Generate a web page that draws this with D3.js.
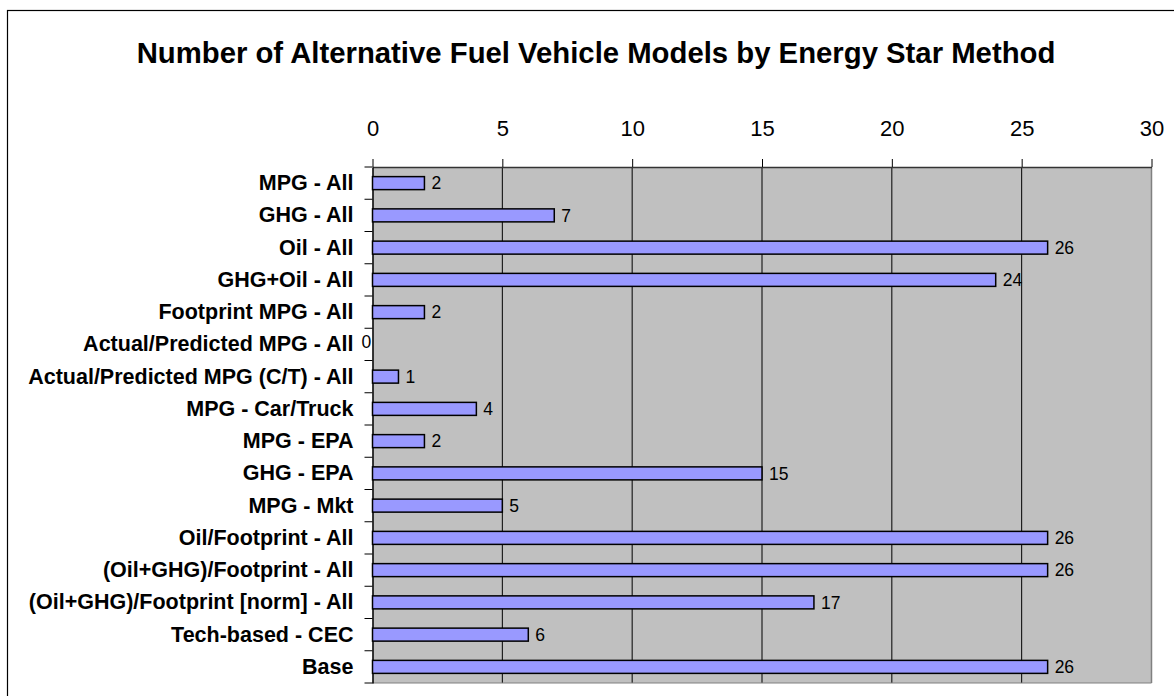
<!DOCTYPE html>
<html><head><meta charset="utf-8">
<script src="https://cdn.jsdelivr.net/npm/d3@7"></script>
<style>body{margin:0;background:#fff}svg{display:block}</style>
</head><body>
<script>
const categories = ["MPG - All","GHG - All","Oil - All","GHG+Oil - All","Footprint MPG - All","Actual/Predicted MPG - All","Actual/Predicted MPG (C/T) - All","MPG - Car/Truck","MPG - EPA","GHG - EPA","MPG - Mkt","Oil/Footprint - All","(Oil+GHG)/Footprint - All","(Oil+GHG)/Footprint [norm] - All","Tech-based - CEC","Base"];
const values = [2,7,26,24,2,0,1,4,2,15,5,26,26,17,6,26];
const tickValues = [0,5,10,15,20,25,30];
const title = "Number of Alternative Fuel Vehicle Models by Energy Star Method";

const W=1174,H=696;
const svg=d3.select("body").append("svg").attr("width",W).attr("height",H);
const font="'Liberation Sans', Arial, sans-serif";
svg.append("rect").attr("x",7.5).attr("y",10.5).attr("width",1175).attr("height",695).attr("fill","#fff").attr("stroke","#000").attr("stroke-width",1.2);
svg.append("text").attr("x",596).attr("y",63).attr("text-anchor","middle").attr("font-family",font).attr("font-weight","bold").attr("font-size",29.3).text(title);

const L=372.5,R=1151.5,T=167,B=683;
const x=d3.scaleLinear().domain([0,30]).range([L,R]);
const y=d3.scaleBand().domain(categories).range([T,B]);

svg.append("rect").attr("x",L).attr("y",T).attr("width",R-L).attr("height",B-T).attr("fill","#C0C0C0");
svg.append("g").selectAll("line").data(tickValues.slice(1,-1)).join("line")
 .attr("x1",d=>x(d)).attr("x2",d=>x(d)).attr("y1",T).attr("y2",B).attr("stroke","#000").attr("stroke-width",1);
svg.append("line").attr("x1",R).attr("x2",R).attr("y1",T).attr("y2",B).attr("stroke","#808080").attr("stroke-width",1.5);
const ax=svg.append("g").attr("transform",`translate(0,${T})`).call(d3.axisTop(x).tickValues(tickValues).tickSize(8).tickPadding(23).tickSizeOuter(0));
ax.select(".domain").attr("stroke","#333").attr("stroke-width",1.5);
ax.selectAll("line").attr("stroke","#000");
ax.selectAll("text").attr("font-family",font).attr("font-size",22).attr("fill","#000");
svg.append("line").attr("x1",L).attr("x2",R).attr("y1",B).attr("y2",B).attr("stroke","#808080").attr("stroke-width",1);
const ay=svg.append("g").attr("transform",`translate(${L},0)`).call(d3.axisLeft(y).tickSize(0).tickPadding(19));
ay.select(".domain").attr("stroke","#000").attr("stroke-width",1.5);
ay.selectAll("text").attr("font-family",font).attr("font-weight","bold").attr("font-size",21.5).attr("fill","#000");
const bounds=categories.map(c=>y(c)).concat([B]);
svg.append("g").selectAll("line").data(bounds).join("line")
 .attr("x1",L-8).attr("x2",L).attr("y1",d=>d).attr("y2",d=>d).attr("stroke","#000").attr("stroke-width",1);
const bh=13;
svg.append("g").selectAll("rect").data(values).join("rect")
 .attr("x",x(0)).attr("y",(d,i)=>y(categories[i])+y.bandwidth()/2-bh/2)
 .attr("width",d=>x(d)-x(0)).attr("height",bh).attr("fill","#9999FF").attr("stroke","#000").attr("stroke-width",1.5)
 .attr("display",d=>d===0?"none":null);
svg.append("g").selectAll("text").data(values).join("text")
 .attr("x",d=>d===0?x(0)-11:x(d)+7).attr("y",(d,i)=>y(categories[i])+y.bandwidth()/2-(d===0?3:0))
 .attr("dy","0.35em").attr("font-family",font).attr("font-size",17.5).attr("fill","#000").text(d=>d);
</script>
</body></html>
